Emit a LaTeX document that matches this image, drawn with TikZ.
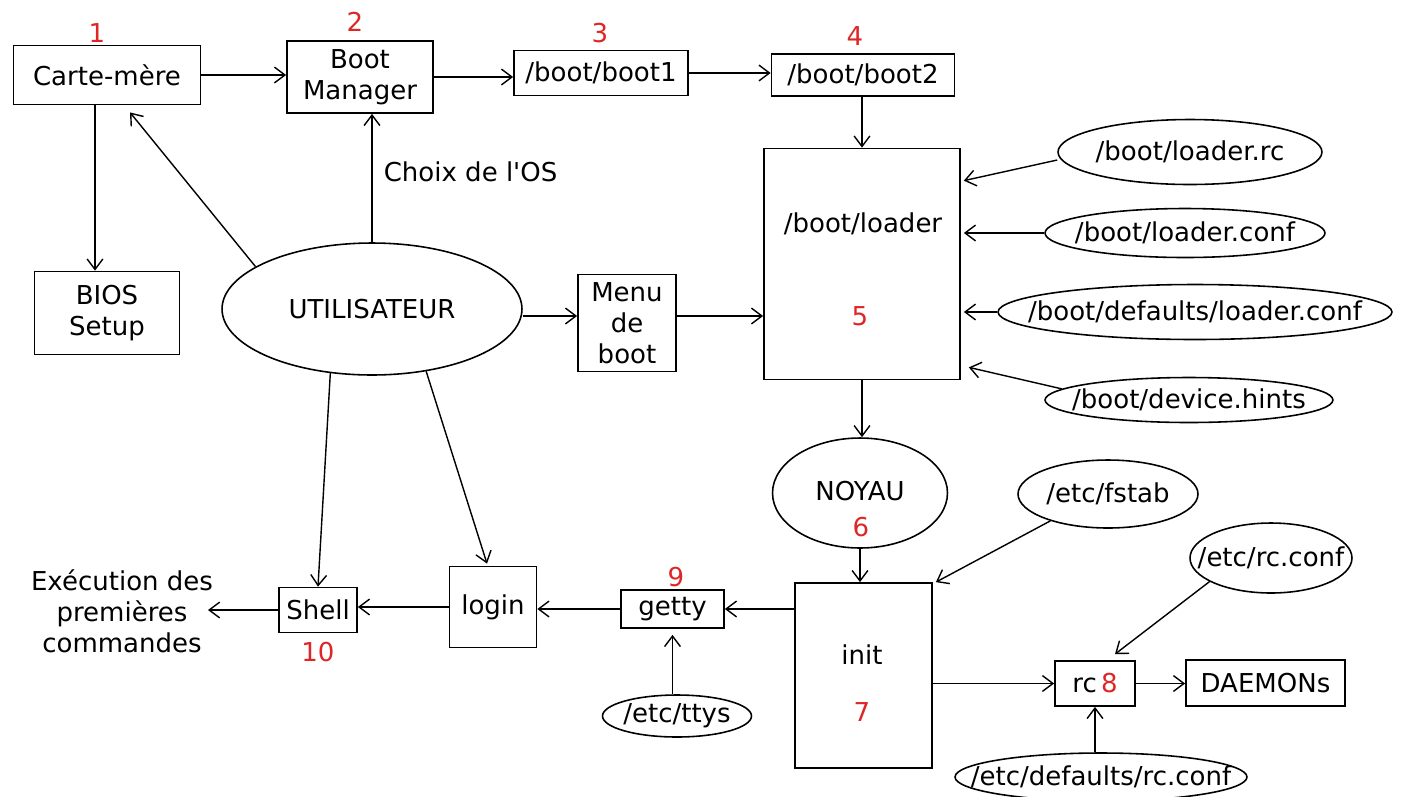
\documentclass[tikz,border=0pt]{standalone}
\usepackage{fontspec}
\setmainfont{DejaVu Sans}
\usepackage{tikz}
\usetikzlibrary{shapes,arrows.meta,calc}
\tikzset{>={Straight Barb[length=6pt,width=9pt]}}
\definecolor{numred}{RGB}{222,38,38}

\tikzset{
  box/.style={draw,line width=1pt,inner sep=0pt,align=center},
  file/.style={draw,ellipse,line width=0.9pt,inner sep=0pt},
  num/.style={text=numred},
  flow/.style={->,line width=0.8pt}
}

\begin{document}
\begin{tikzpicture}[x=0.02cm,y=-0.02cm,font=\fontsize{14.8}{17.6}\selectfont]
  \useasboundingbox (0,0) rectangle (1401,796);

  % boot chain, top row
  \node[box,minimum width=3.74cm,minimum height=1.18cm] (carte) at (107,75) {Carte-mère};
  \node[box,minimum width=2.92cm,minimum height=1.44cm] (bootmgr) at (360,77) {Boot\\Manager};
  \node[box,minimum width=3.48cm,minimum height=0.9cm] (boot1) at (601,73) {/boot/boot1};
  \node[box,minimum width=3.66cm,minimum height=0.84cm] (boot2) at (863,75) {/boot/boot2};
  \node[num] (num1) at (97,33) {1};
  \node[num] (num2) at (355,22) {2};
  \node[num] (num3) at (600,33) {3};
  \node[num] (num4) at (855,36) {4};

  \node[box,minimum width=2.9cm,minimum height=1.66cm] (bios) at (107,313) {BIOS\\Setup};

  % loader and its config files
  \node[box,minimum width=3.92cm,minimum height=4.62cm] (loader) at (862,264) {};
  \node (loadertxt) at (863,224) {/boot/loader};
  \node[num] (num5) at (860,316) {5};

  \node[file,minimum width=5.28cm,minimum height=1.3cm] (loaderrc) at (1190,152) {};
  \node at (loaderrc) {/boot/loader.rc};
  \node[file,minimum width=5.6cm,minimum height=0.98cm] (loaderconf) at (1185,233) {};
  \node at (loaderconf) {/boot/loader.conf};
  \node[file,minimum width=7.88cm,minimum height=1.1cm] (defloader) at (1195,312) {};
  \node at (defloader) {/boot/defaults/loader.conf};
  \node[file,minimum width=5.76cm,minimum height=0.9cm] (hints) at (1189,400) {};
  \node at (hints) {/boot/device.hints};

  % user side
  \node[file,minimum width=6cm,minimum height=2.64cm] (user) at (372,309) {};
  \node at (user) {UTILISATEUR};
  \node[box,minimum width=1.96cm,minimum height=1.94cm] (menu) at (627,323) {Menu\\de\\boot};

  % kernel and init
  \node[file,minimum width=3.5cm,minimum height=2.2cm] (noyau) at (860,493) {};
  \node at (860,491) {NOYAU};
  \node[num] (num6) at (861,527) {6};

  \node[box,minimum width=2.74cm,minimum height=3.7cm] (init) at (863.5,675.5) {};
  \node at (862,655) {init};
  \node[num] (num7) at (862,712) {7};

  \node[file,minimum width=3.6cm,minimum height=1.36cm] (fstab) at (1108,494) {};
  \node at (fstab) {/etc/fstab};
  \node[file,minimum width=3.24cm,minimum height=1.4cm] (rcconf) at (1271,558) {};
  \node at (rcconf) {/etc/rc.conf};
  \node[box,minimum width=1.6cm,minimum height=0.9cm] (rc) at (1095,683.5) {rc\,\textcolor{numred}{8}};
  \node[box,minimum width=3.18cm,minimum height=0.92cm] (daemons) at (1265.5,683) {DAEMONs};
  \node[file,minimum width=5.84cm,minimum height=0.96cm] (defrc) at (1101,777) {};
  \node at (defrc) {/etc/defaults/rc.conf};

  % login path
  \node[box,minimum width=2.06cm,minimum height=0.76cm] (getty) at (672.5,609) {getty};
  \node[num] (num9) at (676,577) {9};
  \node[file,minimum width=2.98cm,minimum height=0.84cm] (ttys) at (677,716) {};
  \node at (ttys) {/etc/ttys};
  \node[box,minimum width=1.74cm,minimum height=1.62cm] (login) at (493,607) {login};
  \node[box,minimum width=1.56cm,minimum height=0.9cm] (shell) at (318,610) {Shell};
  \node[num] (num10) at (318,652) {10};
  \node[align=center] (exec) at (122,611) {Exécution des\\premières\\commandes};
  \coordinate (execend) at (208,610);

  % arrows
  \draw[flow] (carte.east) -- (carte.east -| bootmgr.west);
  \draw[flow] (bootmgr.east) -- (bootmgr.east -| boot1.west);
  \draw[flow] (boot1.east) -- (boot1.east -| boot2.west);
  \draw[flow] (boot2.south -| loader) -- (loader.north);
  \draw[flow] (carte.south -| 95,0) -- (bios.north -| 95,0);
  \draw[flow] (user.160) -- ($(carte.south)+(23,7)$);
  \draw[flow] (user.north) -- (user.north |- bootmgr.south)
    node[pos=0.55,right=3pt] {Choix de l\textquotesingle OS};
  \draw[flow] ($(user.east)+(0,7)$) -- ($(user.east -| menu.west)+(0,7)$);
  \draw[flow] ($(menu.east)+(0,-7)$) -- ($(menu.east -| loader.west)+(0,-7)$);

  \draw[flow] (loaderrc.west |- 0,160) -- ($(loader.north east)+(3,33)$);
  \draw[flow] (loaderconf.west) -- ($(loaderconf.west -| loader.east)+(3,0)$);
  \draw[flow] (defloader.west) -- ($(defloader.west -| loader.east)+(3,0)$);
  \draw[flow] (hints.175) -- ($(loader.south east)+(8,-13)$);

  \draw[flow] (loader.south) -- (loader.south |- noyau.north);
  \draw[flow] (noyau.south) -- (noyau.south |- init.north);
  \draw[flow] (fstab.205) -- ($(init.north east)+(3,0)$);
  \draw[flow] (rcconf.201) -- ($(rc.north)+(20,-6)$);
  \draw[flow] (init.east |- rc) -- (rc.west);
  \draw[flow] (rc.east) -- (rc.east -| daemons.west);
  \draw[flow] (defrc.north -| rc) -- (rc.south);

  \draw[flow] (init.west |- getty) -- (getty.east);
  \draw[flow] (ttys.north -| getty) -- ($(getty.south)+(0,6)$);
  \draw[flow] (getty.west) -- (getty.west -| login.east);
  \draw[flow] (login.west) -- (login.west -| shell.east);
  \draw[flow] (user.-49) -- ($(login.north)+(-6,-2)$);
  \draw[flow] (user.237) -- (shell.north);
  \draw[flow] (shell.west) -- (execend);
\end{tikzpicture}
\end{document}
